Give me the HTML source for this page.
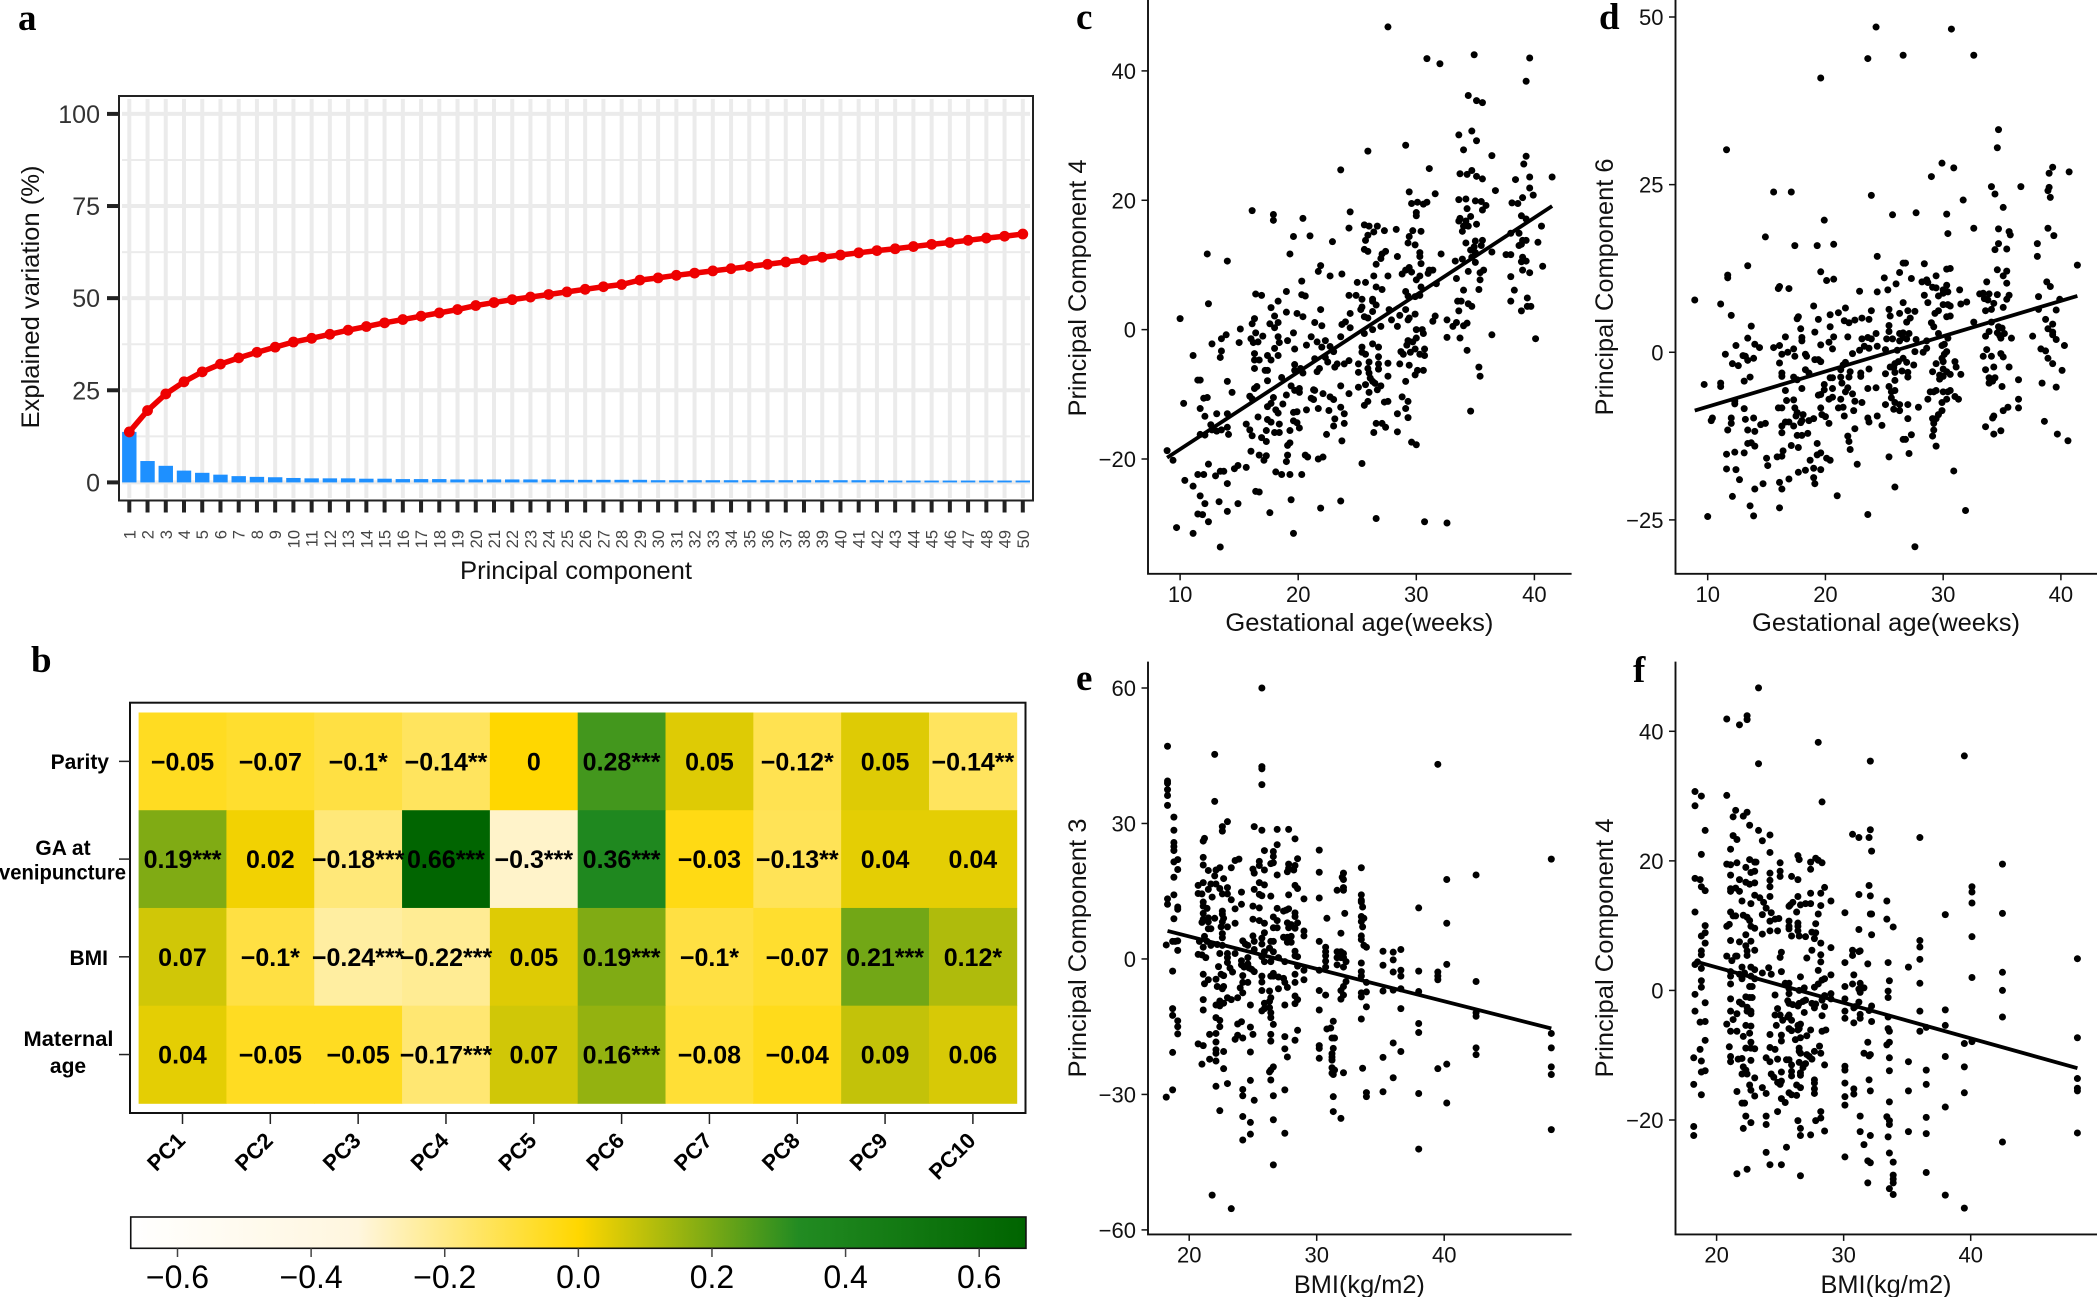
<!DOCTYPE html>
<html lang="en">
<head>
<meta charset="utf-8">
<title>PCA of gestational variables</title>
<style>
html,body{margin:0;padding:0;background:#fff;width:2100px;height:1297px;overflow:hidden}
svg{display:block;font-family:"Liberation Sans",Arial,sans-serif}
.pl{font-family:"Liberation Serif",serif;font-weight:bold;font-size:37px;fill:#000}
.at{font-size:25px;fill:#111}
.hy{font-size:21px;font-weight:bold;fill:#000}
</style>
</head>
<body>
<svg id="fig" xmlns="http://www.w3.org/2000/svg" width="2100" height="1297" viewBox="0 0 2100 1297">
<rect width="2100" height="1297" fill="#fff"/>
<text class="pl" x="18" y="30">a</text>
<text class="pl" x="31" y="672">b</text>
<text class="pl" x="1076" y="29">c</text>
<text class="pl" x="1599" y="29">d</text>
<text class="pl" x="1076" y="690">e</text>
<text class="pl" x="1633" y="682">f</text>

<g id="panelA"></g>
<text class="at" transform="translate(39,297) rotate(-90)" text-anchor="middle" textLength="263" lengthAdjust="spacingAndGlyphs">Explained variation (%)</text>
<text class="at" x="576" y="579" text-anchor="middle" textLength="232" lengthAdjust="spacingAndGlyphs">Principal component</text>

<g id="panelB"></g>
<text class="hy" x="109" y="769" text-anchor="end">Parity</text>
<text class="hy" x="63" y="855" text-anchor="middle">GA at</text>
<text class="hy" x="-1" y="879.5" textLength="127" lengthAdjust="spacingAndGlyphs">venipuncture</text>
<text class="hy" x="108" y="965" text-anchor="end">BMI</text>
<text class="hy" x="68.5" y="1046" text-anchor="middle" textLength="90" lengthAdjust="spacingAndGlyphs">Maternal</text>
<text class="hy" x="68" y="1073" text-anchor="middle">age</text>
<g id="colorbar"></g>

<g id="panelC"></g>
<g id="panelD"></g>
<g id="panelE"></g>
<g id="panelF"></g>
<text class="at" transform="translate(1086,288) rotate(-90)" text-anchor="middle" textLength="257" lengthAdjust="spacingAndGlyphs">Principal Component 4</text>
<text class="at" x="1359.4" y="631" text-anchor="middle" textLength="268" lengthAdjust="spacingAndGlyphs">Gestational age(weeks)</text>
<text class="at" transform="translate(1613,287) rotate(-90)" text-anchor="middle" textLength="257" lengthAdjust="spacingAndGlyphs">Principal Component 6</text>
<text class="at" x="1886" y="631" text-anchor="middle" textLength="268" lengthAdjust="spacingAndGlyphs">Gestational age(weeks)</text>
<text class="at" transform="translate(1086,948) rotate(-90)" text-anchor="middle" textLength="259" lengthAdjust="spacingAndGlyphs">Principal Component 3</text>
<text class="at" x="1359.4" y="1293" text-anchor="middle" textLength="131" lengthAdjust="spacingAndGlyphs">BMI(kg/m2)</text>
<text class="at" transform="translate(1613,948) rotate(-90)" text-anchor="middle" textLength="259" lengthAdjust="spacingAndGlyphs">Principal Component 4</text>
<text class="at" x="1886" y="1293" text-anchor="middle" textLength="131" lengthAdjust="spacingAndGlyphs">BMI(kg/m2)</text>
</svg>
<script>
const screeComponents=[1,2,3,4,5,6,7,8,9,10,11,12,13,14,15,16,17,18,19,20,21,22,23,24,25,26,27,28,29,30,31,32,33,34,35,36,37,38,39,40,41,42,43,44,45,46,47,48,49,50];
const screeBars=[13.7,5.8,4.5,3.2,2.6,2.1,1.7,1.5,1.4,1.2,1.1,1.1,1.1,1,1,.9,.9,.9,.8,.8,.8,.8,.8,.8,.7,.7,.7,.7,.7,.6,.6,.6,.6,.6,.6,.6,.6,.6,.6,.6,.6,.6,.5,.5,.5,.5,.5,.5,.5,.5];
const screeCumulative=[13.7,19.5,24,27.3,30,32.1,33.8,35.3,36.7,38.1,39.1,40.2,41.3,42.3,43.3,44.2,45.1,46,46.9,48,48.8,49.6,50.3,51,51.7,52.4,53.1,53.7,54.9,55.5,56.2,56.8,57.4,58,58.6,59.2,59.8,60.4,61.1,61.7,62.3,62.9,63.4,64,64.6,65.1,65.7,66.3,66.8,67.4];
const screeYTicks=[0,25,50,75,100];
const screeYMinor=[12.5,37.5,62.5,87.5];

const heatRows=["Parity","GA at venipuncture","BMI","Maternal age"];
const heatCols=["PC1","PC2","PC3","PC4","PC5","PC6","PC7","PC8","PC9","PC10"];
const heatParity=[-0.05,-0.07,-0.1,-0.14,0,0.28,0.05,-0.12,0.05,-0.14];
const heatGA=[0.19,0.02,-0.18,0.66,-0.3,0.36,-0.03,-0.13,0.04,0.04];
const heatBMI=[0.07,-0.1,-0.24,-0.22,0.05,0.19,-0.1,-0.07,0.21,0.12];
const heatAge=[0.04,-0.05,-0.05,-0.17,0.07,0.16,-0.08,-0.04,0.09,0.06];
const starsParity=["","","*","**","","***","","*","","**"];
const starsGA=["***","","***","***","***","***","","**","",""];
const starsBMI=["","*","***","***","","***","*","","***","*"];
const starsAge=["","","","***","","***","","","",""];
const colorbarTicks=[-0.6,-0.4,-0.2,0,0.2,0.4,0.6];
const colorDomain=[-0.67,-0.33,0,0.33,0.67];
const colorRange=[[255,255,255],[255,246,222],[255,215,0],[34,139,34],[0,100,0]];

const cXTicks=[10,20,30,40];
const cYTicks=[-20,0,20,40];
const cLine=[[8.9,-19.8],[41.5,19.1]];
const cPoints=[[27.6,46.8],[30.9,41.9],[32,41.1],[34.9,42.5],[39.6,42],[39.3,38.4],[34.4,36.2],[35.1,35.4],[35.6,35.1],[33.6,30.1],[34.7,30.7],[35.1,29.2],[29.1,28.5],[34,27.8],[25.9,27.6],[36.4,26.9],[39.3,26.8],[39.1,25.6],[23.6,24.7],[31.1,24.9],[33.7,24.1],[34.3,24],[34.7,24.6],[35.1,23.7],[35.6,23.3],[38.4,23.2],[39.6,23.6],[41.5,23.6],[39.6,21.9],[36.7,21.5],[39.9,20.8],[29.4,21.3],[31.6,21],[39,20.4],[33.6,20.1],[34.2,20.2],[35,19.9],[35.5,19.8],[35.9,19.2],[38.1,19.6],[38.6,19.5],[29.6,19.5],[30.1,19.7],[30.6,19.4],[30.9,19.7],[34.3,18.7],[35.6,18.5],[30,18.1],[30,17.6],[24.4,18.2],[16.1,18.4],[17.9,17.8],[17.9,16.9],[20.4,17.2],[38.9,17.6],[39.3,17.1],[33.6,16.8],[33.7,17.2],[34.6,17.5],[34.2,16.8],[34,16],[34.4,16],[35.1,16.3],[33.9,15.2],[25.6,16.2],[26,16],[26.7,16],[24.3,15.7],[40.6,16],[28.3,15.5],[27.3,15.3],[26.4,15.1],[25.9,14.6],[29.7,15.3],[30.4,15.2],[29.4,14.4],[19.6,14.4],[21,14.5],[38,14.9],[38.7,14.9],[25.7,13.8],[22.9,13.6],[29.3,13.4],[29.9,13.1],[34.2,13.4],[35,13.7],[35.6,13.8],[39,13.8],[39.3,13.8],[40.3,13.5],[38.7,13],[38.9,13.2],[35.5,13],[34.9,12.8],[34.6,12.3],[25.6,12.4],[25.9,12.1],[27.4,12.1],[27.1,11.7],[36.4,12],[30.3,11.9],[30.3,11.3],[32.1,11.7],[37.6,11.6],[38,11.6],[12.3,11.7],[19.3,11.7],[28.4,11.3],[27,11],[35,11.9],[34.7,11.2],[39,11.2],[39.3,10.6],[38.9,10.5],[14,10.6],[33.3,10.6],[33.9,10.9],[30.4,10.2],[26.6,10.1],[21.9,9.9],[35,10.4],[40.7,9.8],[29.4,9.6],[29.1,9.2],[29.6,8.9],[31.4,9.2],[31.1,9.2],[31,8.7],[34.4,9],[35.7,9.2],[35.4,8.8],[39,9.2],[39.6,8.8],[21.7,9],[22.7,8.3],[23.7,8.6],[28.8,8.6],[26.4,8.3],[27.6,8.3],[30.3,8.3],[33.4,7.9],[38,8.2],[30,7.7],[35.4,7.7],[20.3,7.5],[25,7.3],[25.7,7.3],[31.7,7.1],[26.6,6.6],[27.1,6.2],[30.4,6.6],[34,6.1],[35.3,6.2],[38.3,6.1],[29.1,5.9],[19,5.9],[30.3,5.3],[16.4,5.5],[16.9,5.3],[20.3,5.4],[20.6,5.2],[24.3,5.3],[24.9,5.3],[29.3,5.2],[29.9,5.1],[25.4,4.7],[26.3,4.7],[26.3,4.4],[18.3,4.4],[38,4.4],[33.5,4.4],[33.8,4.4],[34.4,4],[34.7,3.6],[12.4,4],[26.6,3.8],[39.4,4.9],[39.4,3.6],[39.7,3.6],[17.7,3.4],[21.9,3.1],[29.1,3.1],[27.7,3.1],[25.3,3.1],[33.6,2.9],[38.9,2.9],[25.4,3.5],[19,2.7],[26.3,2.8],[19.9,2.5],[24.4,2.5],[28.6,2.2],[29.9,2.4],[20.4,2],[18,2.1],[25.6,2],[25.9,1.8],[31.6,2.1],[10,1.7],[16.3,1.7],[27.9,1.5],[29.4,1.8],[29.3,1.5],[31.4,1.3],[32.6,1.5],[21.4,1.1],[18.3,1.1],[34.3,1],[16.1,.9],[17.6,.9],[24,1.2],[23.7,.8],[33.4,1.1],[34,.6],[22,.6],[33.1,.5],[18,.3],[24.4,.3],[27,.5],[28.4,.5],[30,0],[15.1,.1],[30.5,0],[26.3,0],[19.6,-.5],[16.4,-.5],[25.6,-.6],[13.9,-.8],[30.6,-.6],[36.4,-.8],[18.3,-1.1],[17,-1],[21.1,-1.1],[23.6,-1.1],[13.5,-1.4],[16,-1.4],[30,-1.3],[33.7,-1.3],[32.6,-1.2],[40.1,-1.4],[29.3,-1.7],[22.3,-1.7],[19.1,-1.7],[21.6,-1.9],[15,-2],[29.7,-1.9],[16.2,-2],[16.6,-1.9],[18.4,-2],[12.7,-2.2],[26.3,-2.2],[29.2,-2.4],[20.7,-2.4],[22,-2.7],[22.7,-2.6],[26.8,-2.7],[25.4,-2.7],[19.7,-3],[18,-2.9],[29.9,-3],[30.7,-3],[23,-3.4],[13.5,-3.3],[34.3,-3.2],[16.3,-3.7],[28.7,-3.4],[29.5,-3.5],[25.4,-3.5],[28.9,-3.8],[30.3,-3.8],[30.7,-4],[11.1,-4],[25.7,-3.8],[13.4,-4.3],[17.4,-4],[18.3,-4],[26.8,-4.2],[22.3,-4.3],[21.4,-4.5],[17.7,-4.7],[16.3,-4.7],[16.7,-4.7],[26,-5],[24.3,-4.8],[22.5,-5],[27.6,-5.2],[23.9,-5.3],[28.6,-5.3],[25.1,-5.3],[23.3,-5.3],[26.8,-5.3],[29.4,-5.5],[19.7,-5.4],[35.3,-5.8],[16.3,-6],[25.9,-6],[26.8,-6.1],[21.8,-6],[23.1,-5.8],[17.2,-6.3],[17.4,-6.3],[19.7,-6.3],[20.2,-6],[30.1,-6.3],[30.6,-6.3],[21.6,-6.5],[25.1,-6.6],[20.4,-6.7],[26,-6.7],[29.9,-7],[27.6,-7.2],[35.4,-7.2],[18.6,-7.4],[26.1,-7.5],[14,-8],[11.5,-7.8],[11.7,-7.8],[17.4,-7.9],[29.1,-8],[26.3,-8],[26.5,-8.3],[25.7,-8.5],[16.3,-9.1],[16.5,-8.8],[19.4,-8.7],[23.6,-8.7],[25.1,-8.9],[27,-8.7],[20.1,-9.1],[26.7,-9.3],[21.3,-9.3],[21.4,-9.4],[19.7,-9.4],[14.4,-9.7],[20.1,-9.7],[26,-9.7],[24.3,-9.9],[22.1,-9.9],[15.9,-10.3],[22.7,-10.4],[19,-10.1],[12,-10.6],[12.3,-10.5],[17.9,-10.5],[16.1,-10.7],[21.1,-10.6],[21.3,-10.8],[23,-10.8],[28.8,-10.4],[27.3,-11.2],[27.6,-11.1],[29.3,-11.1],[25.9,-11.1],[25.6,-11.7],[10.3,-11.4],[17.7,-11.4],[17.4,-11.9],[18.7,-11.5],[23.6,-12],[11.7,-12.2],[29.1,-12.2],[21.7,-12.2],[20.7,-12.4],[18.1,-12.4],[34.6,-12.6],[22.6,-12.5],[19.9,-12.7],[19.6,-12.8],[18.3,-12.9],[13.1,-13],[14,-13],[28.4,-13],[23.9,-13],[12.1,-13.4],[16.6,-13.5],[29.3,-13.6],[23.1,-13.8],[17.4,-13.9],[17.7,-14.3],[19.6,-14.1],[19.9,-14.4],[26.6,-14.5],[27.1,-14.5],[12.6,-14.7],[18.4,-14.6],[15.6,-14.6],[23.9,-14.5],[23,-14.9],[27.4,-15.1],[20.1,-15.2],[14,-15.1],[15.9,-15.5],[12.7,-15.5],[13.1,-15.7],[13.5,-15.5],[19.3,-15.6],[17.3,-15.6],[18,-15.9],[18.4,-15.9],[26.4,-15.9],[28.4,-15.8],[11.7,-16.2],[12.1,-16.3],[14.1,-16.2],[16.1,-16.4],[22.4,-16.2],[16.9,-16.7],[17.3,-17.3],[23.7,-17.2],[29.6,-17.4],[30,-17.8],[19.3,-17.5],[19.1,-17.9],[8.9,-18.7],[16,-18.8],[16.7,-19.4],[17.3,-19.5],[20.6,-19.4],[20.8,-19.7],[22.1,-19.7],[21.7,-20],[9.4,-20.2],[17.1,-20.2],[19.1,-19.4],[19,-20.4],[25.4,-20.7],[12.4,-20.8],[14.9,-21],[15.6,-21.3],[14.6,-21.5],[18.1,-22],[18.6,-22.4],[19.3,-22.4],[20.3,-22.4],[11.5,-22.4],[12,-22.4],[13.4,-21.9],[13.7,-21.9],[13,-22.6],[10.4,-23.3],[14,-23.8],[11.1,-24.2],[16.4,-25],[16.7,-25.1],[11.7,-25.7],[19.4,-26.3],[13.3,-26.6],[23.6,-26.5],[12.1,-26.9],[14.9,-26.9],[21.9,-27.6],[14,-28.1],[17.6,-28.3],[11.5,-28.5],[11.9,-28.6],[26.6,-29.2],[12.4,-29.7],[30.7,-29.7],[32.6,-29.9],[9.7,-30.6],[11.1,-31.5],[19.6,-31.5],[13.4,-33.6]];

const dXTicks=[10,20,30,40];
const dYTicks=[-25,0,25,50];
const dLine=[[8.9,-8.7],[41.4,8.4]];
const dPoints=[[24.3,48.5],[30.7,48.2],[23.6,43.8],[26.6,44.3],[32.6,44.3],[19.6,40.9],[34.7,33.2],[11.6,30.2],[34.6,30.5],[29.9,28.2],[30.9,27.5],[39.3,27.6],[40.7,26.9],[39,26.7],[29,26.2],[39,24.6],[38.9,24.1],[34.1,24.7],[36.6,24.7],[15.6,23.9],[17.1,23.9],[23.9,23.4],[34.4,23.6],[39.1,23.1],[31.7,22.7],[35.1,21.6],[25.7,20.5],[27.7,20.8],[30.3,20.6],[19.9,19.7],[32.6,18.5],[34.7,18.4],[38.9,18.5],[30.4,17.7],[35.6,18],[35.7,17.5],[14.9,17.2],[39.4,17.4],[34.7,16.2],[38,16.2],[17.4,15.9],[19.3,15.9],[20.7,16.1],[35.4,15.4],[34.4,15.3],[24.4,14.3],[38,14.3],[26.6,13.3],[26.8,13.3],[28.4,13.2],[13.4,12.9],[41.4,13],[30.3,12.4],[30.6,12.5],[34.6,12.3],[35.4,12.1],[19.6,12],[26.3,11.9],[11.7,11.5],[11.7,11.1],[29.4,11.4],[35.1,11.4],[20.7,10.9],[20.1,10.7],[25,11.1],[27.3,11],[28.2,10.5],[28.6,10.8],[28.7,10.4],[33.7,10.5],[35.4,10.3],[26,10.2],[38.8,10.5],[16.1,9.8],[16,9.5],[16.9,9.5],[29.1,9.7],[29.4,9.6],[30.3,10],[39.1,9.8],[22.9,9.1],[25.3,9.3],[30,9.3],[31.4,9.3],[24.4,9],[30.4,9],[30,8.8],[33.1,8.7],[33.4,8.8],[33.9,8.7],[34.6,8.6],[28.4,8.5],[29.6,8.4],[33.5,8],[35.6,8.5],[35.4,7.9],[38.1,8.3],[39.9,7.9],[33.8,7.8],[8.9,7.8],[11.1,7.2],[28.7,7.4],[26.6,7.4],[30,7.1],[30.4,7.1],[30.6,6.9],[31.5,7.2],[32,7.5],[19,6.9],[34.3,7.3],[21.7,6.6],[25.4,6.4],[29.6,6.2],[23.9,6.2],[33.6,6.2],[34.1,6.4],[35.1,6.7],[38.1,6.4],[39.6,6.3],[21.1,5.9],[29.3,5.8],[26.3,5.8],[27,6.2],[27.6,6.1],[12,5.5],[20.4,5.6],[25.5,5.4],[30.3,5.3],[30.6,5.4],[17.7,5.3],[17.6,5],[27.2,5.1],[19.4,4.9],[21.6,4.7],[22,4.4],[22.5,4.8],[23.1,5.1],[23.7,4.9],[26.9,4.5],[29,4.4],[32.6,4.5],[34.1,4.5],[38.7,4.9],[39.3,4.2],[25.4,4],[29.2,3.8],[20.4,3.8],[13.7,3.9],[17.9,3.5],[34.7,3.8],[35,3.6],[38.9,3.5],[24.3,2.8],[19.1,3],[29.6,2.8],[25.4,3.1],[26.3,2.8],[26.6,2.9],[27.1,2.8],[33.9,3.1],[34.6,2.9],[35.2,2.8],[39.3,3],[13.4,2.1],[16.6,2.3],[18,2.2],[21.9,2.3],[20.7,2.3],[18,1.7],[23.9,2],[23.1,2],[23.6,2.2],[25.2,2],[25.7,2],[26.3,1.7],[26.6,2.2],[26.9,2],[27.7,1.9],[30.4,2.1],[33.6,2.4],[34.8,2.5],[35.8,2.1],[37.6,2.4],[39.6,1.9],[34.9,2.1],[28.6,1.7],[39.3,2.6],[12.4,1],[14,1.2],[14.4,.7],[15.6,.7],[16.1,1],[19.6,1.1],[20.3,1.5],[29.9,1],[30.1,1.2],[40.3,1],[17.3,.5],[20.6,.5],[22.9,.3],[23.3,.9],[23.7,.6],[25.1,.4],[24.4,.9],[27.6,.1],[28.3,0],[28.6,.6],[26.1,.3],[38.3,.5],[38.7,.2],[33.7,.4],[11.5,-.3],[22.3,-.2],[30.3,.1],[13.2,-.6],[13,-.5],[13.9,-.9],[16.8,0],[16.3,-.3],[17.4,-.6],[18.3,-.3],[18.4,-.6],[30.1,-.3],[33.4,-.6],[34.1,-.6],[34.9,-.2],[35.1,-.7],[13.4,-1.2],[19.4,-1.1],[19.1,-1.1],[19.6,-1.4],[21.7,-1.5],[26.6,-.9],[29.9,-.9],[30,-1.4],[31,-1.4],[38.9,-.9],[39.3,-1.7],[12.1,-1.7],[16.1,-1.6],[12.6,-2],[21.5,-1.9],[25.9,-1.7],[26.2,-1.4],[26.9,-1.5],[27.5,-1.9],[29.4,-1.7],[25.8,-2.3],[25.5,-2.2],[31.1,-2.2],[35.6,-2.2],[33.6,-2.6],[34.3,-2.2],[30,-2.5],[40.1,-2.7],[18.3,-2.6],[21.3,-2.6],[23.7,-2.5],[22.1,-2.9],[18.6,-3.1],[16.3,-3.1],[23,-3.1],[25.1,-3.2],[25.9,-3],[26.5,-2.8],[27,-3],[29.1,-2.9],[30.3,-2.9],[30.6,-3.3],[31.5,-3.3],[29.7,-3.4],[16.3,-3.6],[13.6,-3.7],[22,-3.7],[23,-3.6],[21.3,-3.7],[17.3,-3.7],[27,-3.7],[20.4,-3.8],[20.6,-3.8],[29.7,-4],[30,-3.6],[33.9,-3.8],[34.4,-3.8],[36.4,-4.1],[17.6,-4.1],[13.1,-4.3],[25.9,-4.2],[11.1,-4.6],[33.9,-4.6],[34.2,-4.3],[38.4,-4.6],[21.4,-4.6],[9.7,-4.8],[11.1,-5.1],[19.9,-4.8],[25.4,-5.1],[35,-5.1],[39.6,-5.2],[18,-5.4],[20.6,-5.4],[21.9,-5.3],[23.6,-5.4],[24.3,-5.3],[19.9,-5.6],[16.6,-5.7],[21.7,-5.9],[29.2,-5.9],[29.4,-5.7],[30,-5.9],[30.4,-5.9],[30.6,-5.7],[25.6,-5.9],[25.9,-5.7],[28.9,-5.9],[19.4,-6.4],[22.3,-6.2],[19.6,-6.3],[20.6,-6.7],[31,-6.6],[25.6,-6.8],[31.3,-7],[36.4,-7],[30.3,-7],[28.7,-7],[16.7,-7.2],[17.3,-7.1],[20.3,-7],[21.3,-7],[12.3,-7.3],[22.5,-7.3],[23.1,-7.5],[29.9,-7.5],[12.3,-7.7],[25.9,-7.5],[25.1,-7.8],[26.3,-7.8],[27,-7.8],[27.9,-8.2],[21.1,-8.3],[21.5,-8.2],[16,-8.3],[16.3,-8.3],[13.1,-8.4],[19.6,-8.3],[36.4,-8.3],[29.9,-8.7],[25.8,-8.5],[22.4,-8.7],[26.3,-8.7],[35.1,-8.7],[35.5,-8.2],[17.4,-8.3],[17.6,-9],[19.7,-9.3],[18.1,-9.3],[29.6,-9.3],[20,-9.6],[34.3,-9.5],[21.6,-9.5],[24.4,-9.5],[17.5,-9.5],[34.2,-9.8],[13.9,-9.8],[12,-9.8],[10.4,-9.8],[13.2,-10],[23.6,-9.8],[18,-10.2],[18.6,-10.2],[19,-9.9],[27,-9.9],[29.1,-9.9],[29.4,-9.9],[10.3,-10.2],[23.7,-10.4],[38.6,-10.3],[17.9,-10.5],[12,-10.6],[14.5,-10.8],[14.9,-10.6],[16.6,-10.4],[16.9,-10.4],[20.3,-10.6],[29.2,-10.6],[24.8,-10.9],[17.3,-11],[16.3,-11],[33.6,-11.1],[11.7,-11.6],[13.4,-11.6],[22.5,-11.4],[14,-11.8],[16.3,-12],[29.2,-11.6],[34.3,-12.2],[34.9,-11.7],[39.7,-12.2],[18.5,-12.1],[17.6,-12.4],[18,-12.4],[21.9,-12.5],[29.1,-12.5],[27.3,-12.3],[26.6,-13],[26.8,-13],[22,-13.3],[40.6,-13.2],[19.3,-13.6],[13.4,-13.6],[13.7,-13.5],[14,-14],[17.1,-13.9],[17.7,-14.2],[29.4,-14],[22.1,-14.5],[16.4,-14.7],[12.3,-14.9],[13.1,-15],[11.6,-15.2],[19.3,-15.3],[19.6,-15],[27.1,-15.1],[16.3,-15.5],[15.9,-15.6],[25.4,-15.6],[15,-15.8],[20.1,-15.8],[20.4,-16.1],[18.7,-16.1],[15.1,-16.9],[22.7,-16.7],[11.6,-17.4],[12.4,-17.5],[19,-17.3],[19.6,-17.5],[18.3,-17.6],[17.7,-17.9],[30.9,-17.7],[16.9,-18.9],[12.7,-19],[19,-18.7],[16.1,-19.4],[19.1,-19.6],[14.7,-19.6],[25.9,-20.1],[14,-20.4],[16.3,-20.4],[12.1,-21.5],[21,-21.4],[13.6,-22.9],[16.1,-23.2],[31.9,-23.6],[23.6,-24.2],[13.9,-24.4],[10,-24.5],[27.6,-29]];

const eXTicks=[20,30,40];
const eYTicks=[-60,-30,0,30,60];
const eLine=[[18.3,6.2],[48.4,-15.4]];
const ePoints=[[25.7,60],[18.3,47.1],[22,45.3],[39.5,43.1],[25.7,42.6],[25.7,42.1],[25.7,38.6],[18.3,39.4],[18.3,38.9],[18.3,37.5],[18.3,36.2],[18.3,34],[22,34.9],[18.8,31.4],[23,30.4],[25.1,29.3],[22.6,29.3],[22.6,28.3],[25.7,28.5],[26.9,28.7],[27.8,28.7],[18.8,28.5],[21.2,26.7],[21.1,26.1],[28.3,26.6],[18.8,25.8],[18.8,24.9],[18.8,24],[26.9,25.3],[25.9,24],[26.6,23.8],[30.2,24.1],[21.1,22.5],[26.6,22.7],[28.5,22.2],[23.9,22.1],[23.6,21.8],[19.1,22],[48.4,22.1],[18.8,21.5],[25.5,21.6],[26.6,21.3],[26.4,21.1],[27.8,21],[28.3,20.7],[21.1,20.8],[25.5,20.7],[27.8,20.1],[33.5,20.2],[23.3,20.2],[22.4,20.2],[22.1,19.7],[25,19.9],[25.9,19.7],[27.7,19.3],[28.2,19.7],[19.1,19.8],[21.5,19.6],[25.1,19],[30.2,19.2],[32.1,19],[26.9,18.6],[42.5,18.6],[22,18.4],[18.8,18.1],[32,18.1],[32.1,17.6],[40.2,17.6],[22.7,17.8],[25.5,16.9],[21.1,16.9],[20.7,16.3],[21.7,16.6],[22.1,16.6],[25.9,16.4],[28.3,16.3],[28.5,15.6],[32.1,15.8],[25.1,15.4],[23,15.8],[22.4,15.6],[21.5,15.4],[24.1,14.8],[31.6,15.2],[32.1,15.2],[20.7,14.5],[21,14.4],[22.6,14.4],[23,14.4],[33.5,14.2],[18.8,14.2],[25.5,14.3],[25.7,14],[26.4,13.9],[27.8,14.2],[21.8,13.7],[23.3,13.1],[30.2,13.5],[33.5,13],[18.3,13.3],[29,13.3],[33.5,12.6],[18.3,12.1],[24.1,12.1],[21.1,12.6],[25,11.7],[25.5,11.3],[21.1,11.7],[33.6,11.5],[19.1,11.5],[19.1,11],[21.4,11.2],[38,11.3],[23.6,11.1],[26.9,11.2],[27.8,11.1],[27.6,10.8],[27.4,10.6],[22.6,10.6],[32.2,10.1],[21.1,10.1],[28.3,10.2],[22.6,9.9],[33.5,9.4],[28.3,9.4],[30.8,9],[18.8,8.9],[25,8.8],[26.6,9.3],[21.5,9.1],[22,9],[22.7,9],[33.7,9],[21.1,8.8],[25.5,8.5],[25.9,7.9],[26.9,8.5],[21,8.1],[21.5,8.2],[22.6,8.2],[23.6,7.9],[33.5,8.3],[40.2,7.9],[27.7,8],[28.5,8],[28,7.6],[33.6,7.1],[21.5,6.7],[21.7,6.7],[22.5,7.1],[23,7.1],[26.6,6.9],[26.9,6.9],[27.8,6.9],[28.3,6.8],[29,6.2],[31.9,5.7],[25.9,5.8],[22.6,5.6],[25,5.1],[29,5.1],[33.5,5.1],[21.2,5],[27.4,4.8],[27.7,4.8],[28,5],[22.6,4.7],[25.7,4.6],[21.4,3.9],[20.8,3.9],[24.2,4],[18.7,3.9],[18.9,3.9],[25.1,3.9],[30.2,3.9],[33.5,4.3],[26.4,3.9],[26.6,3.9],[27.7,3.7],[28,3.7],[18.2,3.1],[19.1,4],[22.2,3.2],[21.7,3],[24.4,3.3],[24.6,3],[25.7,3.3],[22.6,3],[33.7,3],[30.7,2.6],[33.9,2.6],[19.1,1.9],[21.1,2.6],[25.1,2.1],[36.6,2.1],[35.2,1.7],[36,1.5],[26.3,2.4],[28.3,1.7],[30.7,1.6],[31.6,1.6],[31.9,1.6],[32.1,1.2],[20.7,1],[22.4,1.2],[23.6,1.2],[23,1.2],[25.9,1.6],[26.6,1.6],[28.3,.7],[28.5,.5],[21,.9],[21.3,.3],[23,.3],[24.6,.3],[25.7,.5],[27,.3],[30.7,.7],[32.1,.3],[31.6,.3],[31.9,.3],[36,-.2],[24.1,-.4],[23,-.8],[25.9,-.6],[26.4,-.6],[27.5,-.6],[30.7,-.5],[32.3,-.6],[33.5,-.9],[35.2,-1.4],[40.2,-1.2],[24.1,-1.3],[24.6,-1.1],[31.6,-1.3],[28.5,-1.6],[22.3,-1.7],[30.7,-1.8],[32.1,-1.8],[24.3,-1.8],[24.7,-2],[23.2,-2],[24.9,-2.3],[29,-2.5],[30.2,-2.5],[25.1,-2.8],[18.7,-2.7],[33.5,-2.8],[38,-2.7],[36.6,-2.5],[36,-2.9],[39.5,-2.9],[23.4,-2.9],[22.5,-3.4],[21.1,-3.4],[24.2,-3.7],[22.7,-3.7],[25.7,-3.8],[26.6,-3.8],[26.4,-3.8],[26.6,-3.2],[28.3,-3.4],[39.5,-3.8],[33.5,-3.8],[36.6,-3.8],[27,-4],[27.4,-4.3],[22.1,-4.5],[21.5,-4.6],[29,-4.6],[39.5,-4.6],[24.2,-5.2],[24.6,-5.2],[25.7,-5.1],[27.5,-5.2],[28.3,-5.2],[32.3,-5],[21.2,-5.5],[42.5,-5],[33.9,-5.2],[22.2,-6.1],[22.7,-6.1],[27.7,-6.3],[24,-6.4],[27,-6.6],[32.1,-6.1],[22.6,-6.6],[35.2,-7.1],[36,-6.9],[36.6,-6.6],[38,-7.2],[25.7,-7],[26.3,-7.1],[30.2,-7],[33.9,-7.3],[33.5,-7.5],[31.9,-7],[24.2,-7.5],[30.7,-8],[32.1,-8],[33.5,-8.4],[28.3,-8.2],[23.8,-8.6],[26.4,-8.6],[23,-8.6],[23.3,-9],[31.9,-8.9],[28.5,-9],[21.1,-9],[26.3,-9.4],[22.4,-9.3],[25.9,-9.8],[28.3,-9.9],[24.8,-10.2],[27.5,-10.2],[22.1,-10.2],[22.4,-10.4],[22.7,-9.8],[33.9,-10.6],[36.6,-11],[18.7,-11],[25.9,-11],[26.3,-10.8],[30.2,-11.3],[21.1,-11.3],[25.7,-11.5],[26.4,-11.9],[42.5,-11.9],[18.7,-12.5],[42.5,-12.7],[22.1,-13],[26.4,-13],[33.5,-13.3],[22.4,-13.6],[19.1,-13.7],[31.3,-13.8],[24.1,-13.9],[23.8,-14.4],[26.6,-14.5],[38,-14.3],[19.1,-15],[22.4,-15],[24.8,-15.1],[31.1,-15.3],[30.8,-15.5],[28.5,-15.8],[19.1,-16.6],[22.1,-16.5],[21.6,-16.7],[25,-16.7],[26.4,-16.7],[38,-16.3],[48.4,-16.5],[23.8,-16.9],[23.6,-17.8],[24.2,-17.5],[27.5,-17.2],[31.2,-17.5],[31.4,-17.5],[28.3,-18],[26.4,-18.2],[22.1,-18.4],[36,-18.6],[20.7,-18.8],[21.1,-19.2],[30.2,-19.2],[30.2,-19.8],[48.4,-19.7],[42.5,-19.7],[31.3,-19.8],[27.5,-19.9],[22.1,-20.1],[22.7,-20.5],[18.7,-20.7],[24.8,-20.6],[36.6,-20.5],[22.1,-20.9],[31.2,-21],[42.5,-21.2],[27.7,-21.7],[31.2,-21.7],[35.2,-21.8],[21.6,-22.2],[22.1,-22.6],[30.2,-22],[31.2,-22.4],[21,-23.3],[40.2,-23.3],[48.4,-23.9],[26.6,-23.9],[22.7,-24.3],[26.4,-24.6],[31.2,-24.1],[33.6,-24.2],[39.5,-24.3],[26.3,-25],[31.4,-24.6],[31.2,-25.3],[31.3,-25.6],[32.1,-25.2],[48.4,-25.6],[36,-26.3],[24.8,-26.9],[26.4,-26.8],[23,-27.6],[22.1,-28.2],[24.2,-28.9],[27.5,-29],[18.7,-29],[35.2,-29.4],[33.9,-29.6],[38,-29.8],[24.2,-30.3],[26.6,-30.3],[18.2,-30.6],[31.3,-30.5],[33.9,-30.5],[25.1,-31.3],[40.2,-31.9],[22.4,-33.6],[31.3,-33.8],[31.9,-35.3],[24.2,-34.9],[26.6,-35.6],[24.8,-36.2],[48.4,-37.8],[27.5,-38.6],[24.8,-38.8],[24.2,-40.1],[38,-42.1],[26.6,-45.6],[21.8,-52.3],[23.3,-55.3]];

const fXTicks=[20,30,40];
const fYTicks=[-20,0,20,40];
const fLine=[[18.3,4.5],[48.4,-12]];
const fPoints=[[23.3,46.7],[20.8,41.9],[21.8,41],[22.4,42.4],[22.4,41.8],[28,38.3],[39.5,36.2],[23.3,35],[32.1,35.4],[18.3,30.7],[18.8,30],[20.8,30.1],[28.3,29.1],[18.3,28.5],[21.5,27.8],[22.4,27.5],[22.1,26.9],[21.3,26.8],[22.6,25.5],[23.3,24.7],[32.1,24.8],[19.1,24.7],[30.7,24.1],[31.2,23.6],[32,23.6],[21.3,23.9],[24.2,24],[36,23.6],[21.6,23.3],[23.6,23.1],[21.1,21.8],[24.2,21.3],[32.2,21.5],[18.8,21],[26.4,20.8],[26.5,20.2],[22.6,20.2],[23,19.8],[23.1,19.8],[27.4,19.8],[27.8,20.4],[28,20.1],[28.3,19.7],[25,19.7],[20.8,19.5],[21.1,19.4],[21.6,19.7],[42.5,19.5],[22.3,19],[27.4,18.7],[25,18.4],[22.7,18.2],[23,18.4],[24.2,18.1],[21.1,17.8],[25,17.6],[25.9,17.6],[21.8,17.1],[18.7,17.1],[18.3,17.3],[24.2,17],[26.4,17.1],[22.3,16.7],[22.6,16.4],[23,16.6],[32,16.2],[18.8,16],[40.1,16],[28.5,15.9],[24.2,16],[21.1,15.7],[21.5,15.8],[19.1,15.4],[21.1,15.3],[21.8,15.3],[40.1,15.2],[27.4,15],[28.2,15],[31.2,14.8],[23,14.7],[23.4,14.3],[24.2,14.5],[26.4,14.5],[32.1,14.6],[22,13.8],[23.7,13.6],[29,13.8],[33.4,13.8],[40.1,13.5],[26,13.6],[22.7,13.4],[27,13.4],[27.4,13.4],[25.8,13.2],[26.6,13.2],[25.7,13],[28.2,13.1],[23.9,12.7],[26.3,12.1],[18.3,12.1],[30.1,12],[21.1,12.1],[32.2,11.8],[32.1,11.8],[28,11.8],[24.3,12],[38,11.7],[42.5,11.9],[23.6,11.7],[21.5,11.5],[21.3,11.5],[22.1,11.6],[22.4,11.3],[22.6,10.8],[24.9,11.1],[24.6,11],[33.4,11],[24.2,10.7],[25.7,10.7],[26.4,10.4],[27.8,10.3],[19.1,10],[21,10.2],[20.8,9.9],[22.7,9.9],[23,9.6],[25.7,9.9],[26.4,9.9],[33.9,9.8],[31.2,9.4],[25.7,9.5],[26.4,9.2],[24.2,9.2],[24.8,9.2],[27.5,9],[27.8,8.9],[19.1,8.9],[23.6,8.7],[32.2,8.6],[22.3,8.6],[26.5,8.4],[27,8.3],[40.1,8.3],[25.9,8.4],[18.8,8.4],[27.7,8],[36,7.7],[21.1,7.7],[21.8,7.5],[22.7,7.6],[19.1,7.3],[28.2,7.3],[22.3,6.9],[36,6.7],[29,6.6],[23,6.2],[18.8,6.1],[27.5,6.2],[30.7,6.2],[31.3,6.1],[31.2,6],[22.4,6.1],[25.1,5.9],[18.8,5.5],[20.8,5.3],[21.6,5.3],[22.4,5.4],[30.7,5.4],[28.2,5.5],[25,5.1],[27.1,5],[36,4.8],[48.4,4.9],[28.2,4.4],[30.1,4.3],[31.9,4.1],[33.5,4.3],[18.3,4],[18.5,4.4],[21.2,4.6],[21.5,5.3],[35.1,3.6],[22,3.6],[22.7,3.6],[24.1,3.5],[18.8,3.4],[23,3.2],[28,3.1],[25.1,2.9],[42.5,2.8],[21.1,2.9],[21.8,2.5],[22.2,2.7],[23.6,2.7],[24.3,2.5],[30.8,2.4],[29,2.4],[21.1,2.2],[28.5,1.8],[22,1.8],[22.7,2.2],[26.6,2.1],[40.1,2],[23,1.8],[33.6,1.5],[18.8,1.5],[28.3,1.6],[36,1.1],[21.1,1],[31.3,1.1],[25.4,1.1],[25.7,1.1],[28,1],[30.7,1],[18.8,.5],[22.6,.6],[22.8,.6],[26.9,.4],[27.7,.5],[30.1,.6],[31.6,.4],[25.7,.3],[31.2,.2],[31.3,-.3],[42.5,0],[26.5,0],[33.5,-.1],[18.3,-.6],[24.6,-.7],[25.7,-.5],[29,-.5],[28.5,-.8],[22.3,-1],[22.6,-1.1],[22.8,-1.1],[33.5,-1.1],[21.1,-1.3],[30.1,-1.3],[28.3,-1.5],[29,-1.3],[27,-1.5],[25.6,-1.6],[26.8,-1.7],[31.2,-1.8],[21.8,-1.8],[19.1,-1.9],[25.7,-2],[26.5,-2],[22,-2.1],[27.5,-2],[27.8,-2.1],[26,-2.2],[26.4,-2.4],[30.9,-2.5],[32.2,-2.4],[22.4,-2.6],[27.7,-2.7],[30.8,-2.7],[28.5,-2.5],[24.8,-2.8],[18.3,-3.2],[30.1,-3.2],[32,-3.1],[36,-3.2],[38,-3],[21.1,-3.2],[22.4,-3.2],[22.7,-3.2],[21.6,-3.6],[26.9,-3.4],[31.3,-3.7],[28.3,-3.9],[25,-3.8],[24.6,-3.8],[25.7,-3.8],[33.5,-4.1],[42.5,-4.1],[25.6,-4.1],[30.1,-4.3],[31.3,-4.3],[21.3,-4.5],[22.7,-3.6],[25.2,-4.6],[32.2,-4.8],[25.9,-4.6],[30.8,-5],[20.8,-5.2],[18.7,-4.9],[19.1,-4.8],[24.7,-5.4],[38,-5.4],[22.3,-5.4],[22.7,-5.5],[26.6,-5.2],[26.4,-5.4],[36.5,-5.7],[33.5,-5.9],[25.7,-5.9],[25.9,-6.2],[28.6,-6.1],[28.3,-6.3],[21.1,-6.3],[21.6,-6.3],[36,-6.3],[26.4,-6.1],[27.4,-6.1],[22.6,-6.6],[33.6,-6.3],[26.5,-5.9],[24.2,-6.8],[25.1,-6.9],[27.1,-7],[22.1,-7.1],[26.6,-7.3],[26.2,-7.6],[19.1,-7.7],[25.1,-7.8],[48.4,-7.3],[33.6,-8],[31.9,-8],[22.7,-8],[39.5,-8.2],[40.1,-7.9],[33.4,-8.4],[28.1,-8.6],[21,-8.7],[22.7,-8.9],[22.3,-8.9],[24.2,-8.8],[26.5,-8.9],[24.6,-9.1],[23,-9],[26.5,-9.4],[26.6,-9.7],[27.7,-9.4],[18.7,-9.1],[31.6,-9.7],[32,-10.1],[32.1,-9.9],[27.1,-9.9],[27.3,-10.2],[18.2,-10.4],[21.1,-10.2],[38,-10.2],[33.6,-10.4],[28.2,-9.7],[23.9,-10.4],[21.7,-10.6],[22,-10.5],[22.7,-10.8],[24.8,-10.6],[25.5,-10.7],[25.7,-10.7],[26.5,-11.1],[27.5,-10.6],[24.2,-11],[21.1,-11],[18.8,-10.9],[35.1,-11],[30.1,-11.7],[27,-11.3],[22.1,-11.8],[28.5,-11.5],[25.9,-11.5],[26.8,-11.9],[39.5,-11.8],[30.1,-12.3],[33.6,-12.4],[36.5,-12.3],[19.1,-12.4],[18.8,-12.6],[22.3,-12.3],[22,-12.9],[22.4,-12.9],[25.1,-12.6],[25.9,-12.5],[25.9,-13.2],[26.6,-12.7],[26.6,-13.1],[24.3,-12.9],[23,-13.5],[24.5,-13.4],[27.7,-13.8],[32,-13.8],[48.4,-13.6],[24.8,-14.2],[25.1,-14],[18.2,-14.5],[25,-14.5],[36.5,-14.5],[22.6,-14.6],[26.3,-14.6],[26.6,-15],[30.1,-14.3],[27.7,-14.3],[23.6,-15],[27.7,-15.2],[30.8,-15.2],[48.4,-15.1],[22.7,-15.4],[21.6,-15.6],[35.1,-15.5],[32.1,-15.5],[48.4,-15.5],[39.5,-15.8],[23.9,-15.9],[25.7,-15.8],[27.7,-15.9],[30.8,-16],[18.8,-16.1],[23,-16.3],[25.9,-16.1],[26.3,-16.2],[30.1,-16.4],[25.1,-16.7],[25.4,-17.3],[33.6,-17.2],[22,-17.4],[22.2,-17.4],[30.1,-17.7],[38,-18],[24.8,-18.7],[28.2,-18.7],[31.3,-19.4],[22.3,-19.4],[23.9,-19.4],[33.4,-19.5],[36.5,-19.6],[28.2,-19.7],[27.8,-20.1],[26.4,-20.1],[33.6,-20.1],[22.7,-20.4],[33.6,-20.7],[23.9,-20.7],[18.2,-21],[22.1,-21.3],[26.6,-21.3],[28.5,-21.7],[35.1,-21.8],[31.3,-21.8],[36.5,-22.1],[48.4,-22],[27.4,-22.3],[18.2,-22.4],[26.6,-22.4],[32.1,-22.4],[33.5,-22.6],[42.5,-23.4],[31.6,-23.8],[25.5,-24.2],[23.9,-25],[33.6,-25.1],[30.1,-25.7],[31.9,-26.3],[32.1,-26.6],[33.9,-26.5],[24.2,-26.9],[25.1,-26.9],[22.4,-27.6],[36.5,-28.1],[21.6,-28.3],[26.6,-28.6],[33.9,-28.5],[33.9,-29.1],[33.9,-29.7],[31.9,-29.7],[33.6,-30.6],[33.9,-31.5],[38,-31.6],[39.5,-33.6]];

const NS='http://www.w3.org/2000/svg';
function mk(tag,attrs,parent,text){
  const el=document.createElementNS(NS,tag);
  for(const k in attrs){el.setAttribute(k,attrs[k]);}
  if(text!==undefined){el.textContent=text;}
  parent.appendChild(el);
  return el;
}
function linear(d0,r0,d1,r1){return v=>r0+(v-d0)*(r1-r0)/(d1-d0);}
function fmtMinus(s){return String(s).replace('-','\u2212');}

/* ---------- panel a ---------- */
(function(){
  const g=document.getElementById('panelA');
  const xS=linear(1,129.3,50,1022.8);
  const yS=linear(0,482.4,100,113.9);
  const box={l:119,r:1033,t:96,b:500.5};
  const inner={l:122,r:1030,t:99,b:498};
  screeYMinor.forEach(v=>{
    const l=mk('line',{x1:inner.l,x2:inner.r,y1:yS(v),y2:yS(v),stroke:'#ebebeb','stroke-width':2},g);
    
    
  });
  screeYTicks.forEach(v=>{
    const l=mk('line',{x1:inner.l,x2:inner.r,y1:yS(v),y2:yS(v),stroke:'#ebebeb','stroke-width':4},g);
    
    
  });
  screeComponents.forEach(c=>{
    const l=mk('line',{x1:xS(c),x2:xS(c),y1:inner.t,y2:inner.b,stroke:'#ebebeb','stroke-width':4},g);
    
    
  });
  screeBars.forEach((v,i)=>{
    const x=xS(screeComponents[i]);
    const r=mk('rect',{x:x-7.2,width:14.4,y:yS(v),height:yS(0)-yS(v),fill:'#1e90ff'},g);
    
    
  });
  const pts=screeCumulative.map((v,i)=>xS(screeComponents[i])+','+yS(v)).join(' ');
  const pl=mk('polyline',{points:pts,fill:'none',stroke:'#ee0000','stroke-width':5.5},g);
  
  
  screeCumulative.forEach((v,i)=>{
    const c=mk('circle',{cx:xS(screeComponents[i]),cy:yS(v),r:5.4,fill:'#ee0000'},g);
    
    
  });
  const frame=mk('rect',{x:box.l,y:box.t,width:box.r-box.l,height:box.b-box.t,fill:'none',stroke:'#222','stroke-width':2},g);
  
  
  screeYTicks.forEach(v=>{
    const t=mk('line',{x1:107,x2:119,y1:yS(v),y2:yS(v),stroke:'#222','stroke-width':4},g);
    
    
    const lb=mk('text',{x:100,y:yS(v)+9,'text-anchor':'end','font-size':25,fill:'#333'},g,v);
    
    
  });
  screeComponents.forEach(c=>{
    const x=xS(c);
    const t=mk('line',{x1:x,x2:x,y1:500.5,y2:512.5,stroke:'#222','stroke-width':4},g);
    
    
    const lb=mk('text',{transform:'translate('+(x+6)+',530) rotate(-90)','text-anchor':'end','font-size':16.5,fill:'#444'},g,c);
    
    
  });
})();

/* ---------- colour scale ---------- */
function heatColor(v){
  let i=0;
  while(i<colorDomain.length-2&&v>colorDomain[i+1]){i++;}
  const t=Math.max(0,Math.min(1,(v-colorDomain[i])/(colorDomain[i+1]-colorDomain[i])));
  const a=colorRange[i],b=colorRange[i+1];
  return 'rgb('+a.map((c,j)=>Math.round(c+(b[j]-c)*t)).join(',')+')';
}

/* ---------- panel b ---------- */
(function(){
  const g=document.getElementById('panelB');
  const matrix=[heatParity,heatGA,heatBMI,heatAge];
  const stars=[starsParity,starsGA,starsBMI,starsAge];
  const left=138.6,right=1016.8,top=712.5,bottom=1103.4;
  const cw=(right-left)/heatCols.length,ch=(bottom-top)/heatRows.length;
  const frame=mk('rect',{x:130,y:702.7,width:895.5,height:410.3,fill:'none',stroke:'#111','stroke-width':2},g);
  
  
  matrix.forEach((row,r)=>{
    row.forEach((v,c)=>{
      const cell=mk('rect',{x:left+c*cw,y:top+r*ch,width:cw+.4,height:ch+.4,fill:heatColor(v)},g);
      
      
    });
  });
  matrix.forEach((row,r)=>{
    row.forEach((v,c)=>{
      const lb=mk('text',{x:left+(c+.5)*cw,y:top+(r+.5)*ch+9,'text-anchor':'middle','font-size':25,'font-weight':'bold',fill:'#000'},g,fmtMinus(v)+stars[r][c]);
      
      
    });
    const t=mk('line',{x1:119,x2:130,y1:top+(r+.5)*ch,y2:top+(r+.5)*ch,stroke:'#222','stroke-width':1.5},g);
    
    
  });
  heatCols.forEach((name,c)=>{
    const x=left+(c+.5)*cw;
    const t=mk('line',{x1:x,x2:x,y1:1113,y2:1124,stroke:'#222','stroke-width':1.5},g);
    
    
    const lb=mk('text',{transform:'translate('+(x+4)+',1142) rotate(-45)','text-anchor':'end','font-size':22,'font-weight':'bold',fill:'#000'},g,name);
    
    
  });

  const cb=document.getElementById('colorbar');
  const xS=linear(-0.6,177.5,0.6,979.2);
  const ct=1217,cbm=1248.3;
  const defs=mk('defs',{},cb);
  const grad=mk('linearGradient',{id:'cbGrad',x1:0,x2:1,y1:0,y2:0},defs);
  const dMin=colorDomain[0],dMax=colorDomain[colorDomain.length-1];
  colorDomain.forEach(d=>{
    mk('stop',{offset:((d-dMin)/(dMax-dMin)),'stop-color':heatColor(d)},grad);
  });
  const bar=mk('rect',{x:xS(dMin),y:ct,width:xS(dMax)-xS(dMin),height:cbm-ct,fill:'url(#cbGrad)',stroke:'#111','stroke-width':1.6},cb);
  
  
  colorbarTicks.forEach(v=>{
    const x=xS(v);
    const t=mk('line',{x1:x,x2:x,y1:cbm,y2:1257,stroke:'#444','stroke-width':1.5},cb);
    
    
    const lb=mk('text',{x:x,y:1288,'text-anchor':'middle','font-size':32,fill:'#000'},cb,fmtMinus(v.toFixed(1)));
    
    
  });
})();

/* ---------- scatter panels ---------- */
function drawScatter(id,points,trend,xTicks,yTicks,geo){
  const g=document.getElementById(id);
  const xS=linear(geo.xa[0],geo.xa[1],geo.xb[0],geo.xb[1]);
  const yS=linear(geo.ya[0],geo.ya[1],geo.yb[0],geo.yb[1]);
  const ax=mk('path',{d:'M'+geo.left+' '+geo.top+'V'+geo.bottom+'H'+geo.right,fill:'none',stroke:'#111','stroke-width':1.9},g);
  
  
  xTicks.forEach(v=>{
    const t=mk('line',{x1:xS(v),x2:xS(v),y1:geo.bottom,y2:geo.bottom+6.5,stroke:'#111','stroke-width':1.5},g);
    
    
    const lb=mk('text',{x:xS(v),y:geo.bottom+28,'text-anchor':'middle','font-size':22,fill:'#111'},g,v);
    
    
  });
  yTicks.forEach(v=>{
    const t=mk('line',{x1:geo.left-6.5,x2:geo.left,y1:yS(v),y2:yS(v),stroke:'#111','stroke-width':1.5},g);
    
    
    const lb=mk('text',{x:geo.left-12,y:yS(v)+8,'text-anchor':'end','font-size':22,fill:'#111'},g,fmtMinus(v));
    
    
  });
  points.forEach(p=>{
    const c=mk('circle',{cx:xS(p[0]),cy:yS(p[1]),r:3.5,fill:'#000'},g);
    
    
  });
  const l=mk('line',{x1:xS(trend[0][0]),y1:yS(trend[0][1]),x2:xS(trend[1][0]),y2:yS(trend[1][1]),stroke:'#000','stroke-width':3.8},g);
  
  
}
drawScatter('panelC',cPoints,cLine,cXTicks,cYTicks,{xa:[10,1180.1],xb:[40,1534.4],ya:[40,70.9],yb:[-20,459],left:1148,right:1571.6,top:0,bottom:573.8});
drawScatter('panelD',dPoints,dLine,dXTicks,dYTicks,{xa:[10,1707.7],xb:[40,2060.9],ya:[50,17],yb:[-25,519.9],left:1675.5,right:2097,top:0,bottom:573.8});
drawScatter('panelE',ePoints,eLine,eXTicks,eYTicks,{xa:[20,1189.2],xb:[40,1444.2],ya:[60,688],yb:[-60,1229.9],left:1148,right:1571.6,top:661.6,bottom:1234.4});
drawScatter('panelF',fPoints,fLine,fXTicks,fYTicks,{xa:[20,1716.6],xb:[40,1970.7],ya:[40,731.3],yb:[-20,1120],left:1675.5,right:2097,top:661.6,bottom:1234.4});
</script>
</body>
</html>
